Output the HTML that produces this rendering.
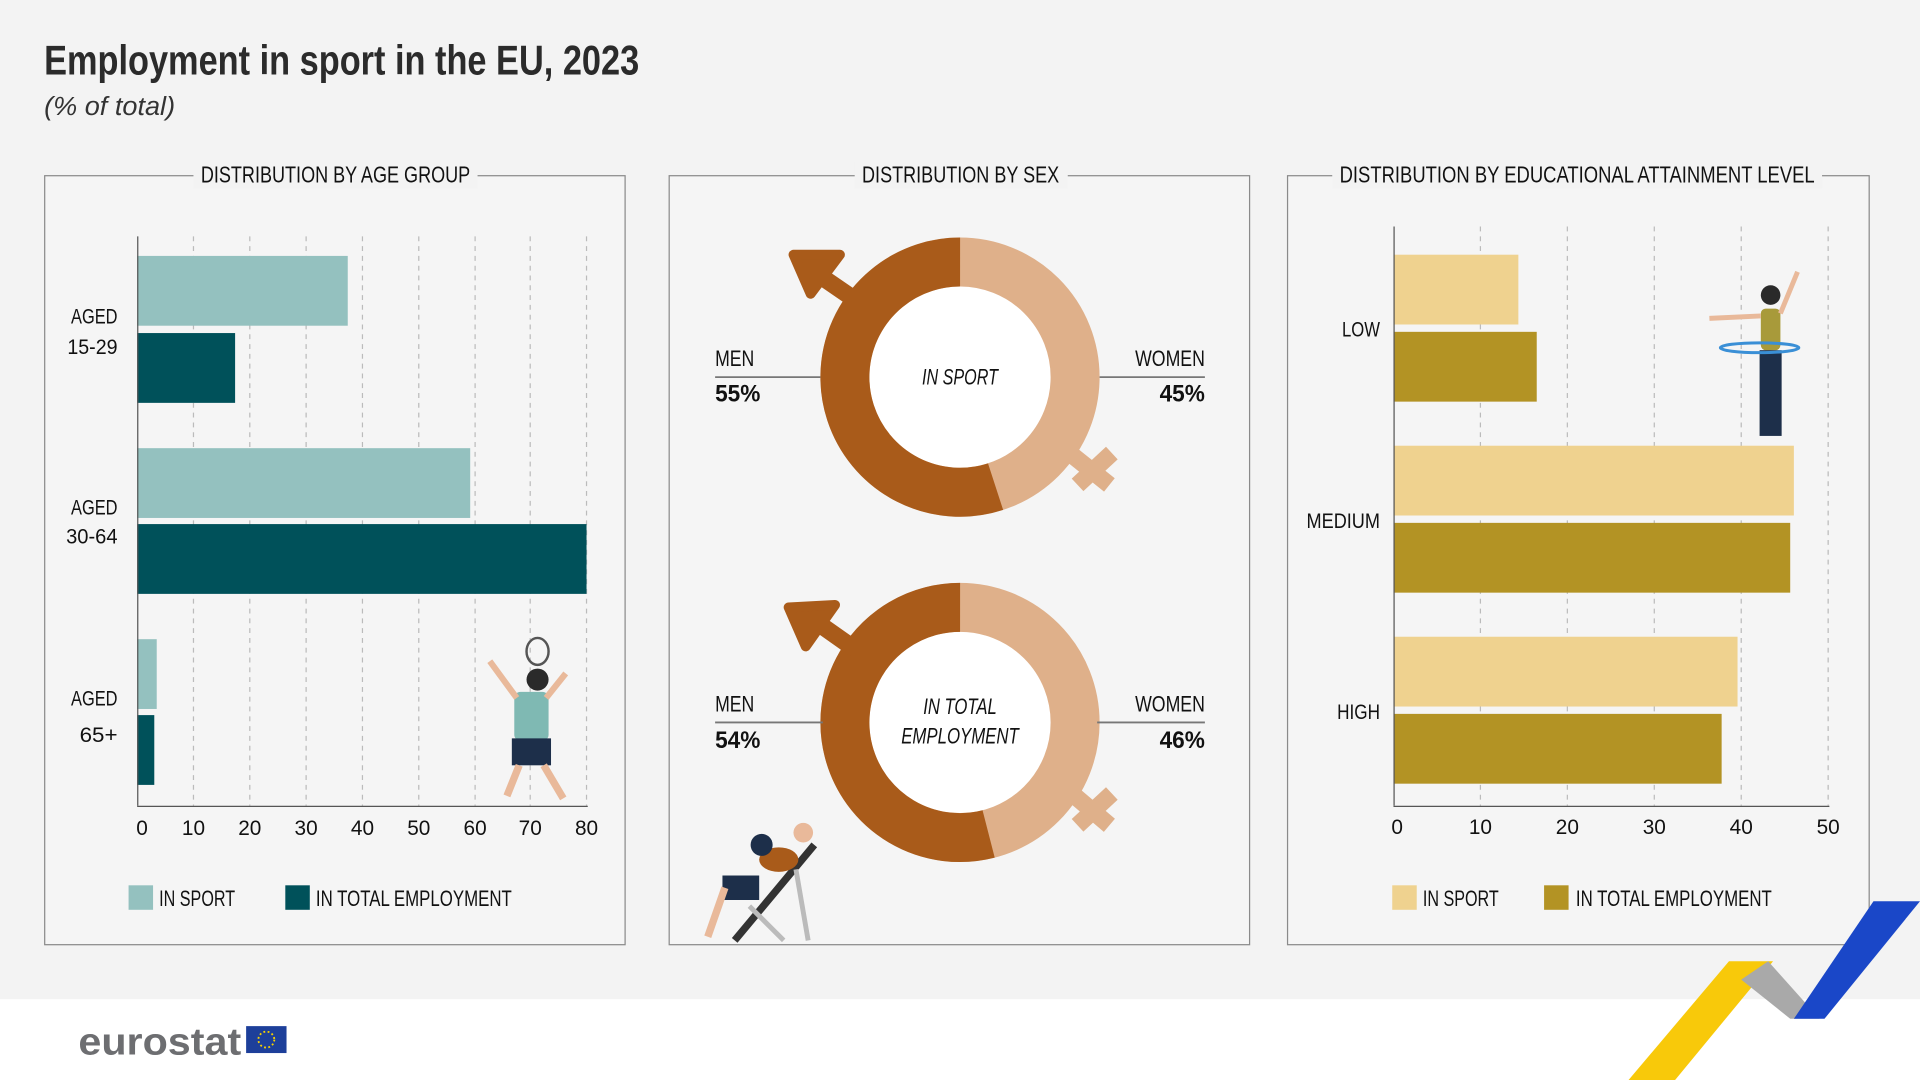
<!DOCTYPE html>
<html><head><meta charset="utf-8"><style>
html,body{margin:0;padding:0;background:#f3f3f3;}
svg{display:block;font-family:"Liberation Sans Narrow","Liberation Sans",sans-serif;}
</style></head><body>
<svg width="1920" height="1080" viewBox="0 0 1568 882" preserveAspectRatio="none" xmlns="http://www.w3.org/2000/svg">
<rect width="1568" height="882" fill="#f3f3f3"/>
<rect y="816" width="1568" height="66" fill="#ffffff"/>
<text x="36" y="61" font-size="34" font-weight="bold" fill="#2b2b2b" textLength="486" lengthAdjust="spacingAndGlyphs">Employment in sport in the EU, 2023</text>
<text x="36" y="94" font-size="21" font-style="italic" fill="#333" textLength="107" lengthAdjust="spacingAndGlyphs">(% of total)</text>

<g fill="#f5f5f5" stroke="#8a8a8a" stroke-width="1">
<rect x="36.5" y="143.5" width="474" height="628"/>
<rect x="546.5" y="143.5" width="474" height="628"/>
<rect x="1051.5" y="143.5" width="475" height="628"/>
</g>
<g font-size="19" fill="#111">
<rect x="158" y="132" width="232" height="22" fill="#f3f3f3"/>
<text x="164" y="149" textLength="220" lengthAdjust="spacingAndGlyphs">DISTRIBUTION BY AGE GROUP</text>
<rect x="698" y="132" width="174" height="22" fill="#f3f3f3"/>
<text x="704" y="149" textLength="161" lengthAdjust="spacingAndGlyphs">DISTRIBUTION BY SEX</text>
<rect x="1088" y="132" width="400" height="22" fill="#f3f3f3"/>
<text x="1094" y="149" textLength="388" lengthAdjust="spacingAndGlyphs">DISTRIBUTION BY EDUCATIONAL ATTAINMENT LEVEL</text>
</g>

<!-- left chart -->
<g stroke="#bbb" stroke-dasharray="4 4" stroke-width="1">
<line x1="158" y1="193" x2="158" y2="658"/><line x1="204" y1="193" x2="204" y2="658"/>
<line x1="250" y1="193" x2="250" y2="658"/><line x1="296" y1="193" x2="296" y2="658"/>
<line x1="342" y1="193" x2="342" y2="658"/><line x1="388" y1="193" x2="388" y2="658"/>
<line x1="433" y1="193" x2="433" y2="658"/><line x1="479" y1="193" x2="479" y2="658"/>
</g>
<g fill="#94c1bf"><rect x="112" y="209" width="172" height="57"/><rect x="112" y="366" width="272" height="57"/><rect x="112" y="522" width="16" height="57"/></g>
<g fill="#00515a"><rect x="112" y="272" width="80" height="57"/><rect x="112" y="428" width="367" height="57"/><rect x="112" y="584" width="14" height="57"/></g>
<line x1="112.5" y1="193" x2="112.5" y2="658" stroke="#555"/>
<line x1="112" y1="658.5" x2="480" y2="658.5" stroke="#555"/>
<g font-size="17" fill="#111" text-anchor="middle">
<text x="116" y="682">0</text><text x="158" y="682">10</text><text x="204" y="682">20</text><text x="250" y="682">30</text><text x="296" y="682">40</text><text x="342" y="682">50</text><text x="388" y="682">60</text><text x="433" y="682">70</text><text x="479" y="682">80</text>
</g>
<g font-size="17" fill="#111">
<text x="58" y="264" textLength="38" lengthAdjust="spacingAndGlyphs">AGED</text><text x="55" y="289" textLength="41" lengthAdjust="spacingAndGlyphs">15-29</text>
<text x="58" y="420" textLength="38" lengthAdjust="spacingAndGlyphs">AGED</text><text x="54" y="444" textLength="42" lengthAdjust="spacingAndGlyphs">30-64</text>
<text x="58" y="576" textLength="38" lengthAdjust="spacingAndGlyphs">AGED</text><text x="65" y="606" textLength="31" lengthAdjust="spacingAndGlyphs">65+</text>
</g>
<rect x="105" y="723" width="20" height="20" fill="#94c1bf"/><text x="130" y="740" font-size="18" fill="#111" textLength="62" lengthAdjust="spacingAndGlyphs">IN SPORT</text>
<rect x="233" y="723" width="20" height="20" fill="#00515a"/><text x="258" y="740" font-size="18" fill="#111" textLength="160" lengthAdjust="spacingAndGlyphs">IN TOTAL EMPLOYMENT</text>
<g>
<circle cx="439" cy="555" r="9" fill="#2a2a2a"/>
<rect x="420" y="565" width="28" height="40" rx="5" fill="#7fb9b3"/>
<rect x="418" y="603" width="32" height="22" fill="#1d2f4a"/>
<line x1="424" y1="625" x2="414" y2="650" stroke="#e9b99a" stroke-width="6"/>
<line x1="444" y1="625" x2="460" y2="652" stroke="#e9b99a" stroke-width="6"/>
<line x1="422" y1="570" x2="400" y2="540" stroke="#e9b99a" stroke-width="5"/>
<line x1="446" y1="570" x2="462" y2="550" stroke="#e9b99a" stroke-width="5"/>
<ellipse cx="439" cy="532" rx="9" ry="11" fill="none" stroke="#555" stroke-width="2"/>
</g>

<!-- middle donuts -->
<g>
<circle cx="784" cy="308" r="94" fill="#fff" stroke="#dfb08a" stroke-width="40"/>
<circle cx="784" cy="308" r="94" fill="none" stroke="#a95b1a" stroke-width="40" stroke-dasharray="324.8 1000" transform="rotate(72 784 308)"/>
<line x1="700" y1="246" x2="668" y2="224" stroke="#a95b1a" stroke-width="14"/>
<polygon points="648,208 686,208 662,240" fill="#a95b1a" stroke="#a95b1a" stroke-width="8" stroke-linejoin="round"/>
<line x1="866" y1="364" x2="906" y2="396" stroke="#dfb08a" stroke-width="14"/>
<line x1="880" y1="396" x2="908" y2="370" stroke="#dfb08a" stroke-width="14"/>
<text x="753" y="314" font-size="18" font-style="italic" fill="#111" textLength="62" lengthAdjust="spacingAndGlyphs">IN SPORT</text>

<circle cx="784" cy="590" r="94" fill="#fff" stroke="#dfb08a" stroke-width="40"/>
<circle cx="784" cy="590" r="94" fill="none" stroke="#a95b1a" stroke-width="40" stroke-dasharray="318.9 1000" transform="rotate(75.6 784 590)"/>
<line x1="698" y1="530" x2="664" y2="506" stroke="#a95b1a" stroke-width="14"/>
<polygon points="644,496 682,494 658,528" fill="#a95b1a" stroke="#a95b1a" stroke-width="8" stroke-linejoin="round"/>
<line x1="866" y1="640" x2="906" y2="674" stroke="#dfb08a" stroke-width="14"/>
<line x1="880" y1="674" x2="908" y2="648" stroke="#dfb08a" stroke-width="14"/>
<text x="754" y="583" font-size="18" font-style="italic" fill="#111" textLength="60" lengthAdjust="spacingAndGlyphs">IN TOTAL</text>
<text x="736" y="607" font-size="18" font-style="italic" fill="#111" textLength="96" lengthAdjust="spacingAndGlyphs">EMPLOYMENT</text>
</g>
<g stroke="#777" stroke-width="1.5">
<line x1="584" y1="308" x2="670" y2="308"/><line x1="898" y1="308" x2="984" y2="308"/>
<line x1="584" y1="590" x2="672" y2="590"/><line x1="896" y1="590" x2="984" y2="590"/>
</g>
<g font-size="18" fill="#111">
<text x="584" y="299" textLength="32" lengthAdjust="spacingAndGlyphs">MEN</text><text x="584" y="328" font-weight="bold" font-size="20" textLength="37" lengthAdjust="spacingAndGlyphs">55%</text>
<text x="927" y="299" textLength="57" lengthAdjust="spacingAndGlyphs">WOMEN</text><text x="947" y="328" font-weight="bold" font-size="20" textLength="37" lengthAdjust="spacingAndGlyphs">45%</text>
<text x="584" y="581" textLength="32" lengthAdjust="spacingAndGlyphs">MEN</text><text x="584" y="611" font-weight="bold" font-size="20" textLength="37" lengthAdjust="spacingAndGlyphs">54%</text>
<text x="927" y="581" textLength="57" lengthAdjust="spacingAndGlyphs">WOMEN</text><text x="947" y="611" font-weight="bold" font-size="20" textLength="37" lengthAdjust="spacingAndGlyphs">46%</text>
</g>
<g>
<line x1="600" y1="768" x2="665" y2="690" stroke="#333" stroke-width="6"/>
<line x1="612" y1="740" x2="640" y2="768" stroke="#bbb" stroke-width="4"/>
<line x1="650" y1="710" x2="660" y2="768" stroke="#bbb" stroke-width="4"/>
<rect x="590" y="715" width="30" height="20" fill="#1d2f4a"/>
<ellipse cx="636" cy="702" rx="16" ry="10" fill="#a95b1a"/>
<circle cx="656" cy="680" r="8" fill="#e9b99a"/>
<circle cx="622" cy="690" r="9" fill="#1d2f4a"/>
<line x1="592" y1="725" x2="578" y2="765" stroke="#e9b99a" stroke-width="6"/>
</g>

<!-- right chart -->
<g stroke="#bbb" stroke-dasharray="4 4" stroke-width="1">
<line x1="1209" y1="185" x2="1209" y2="658"/><line x1="1280" y1="185" x2="1280" y2="658"/>
<line x1="1351" y1="185" x2="1351" y2="658"/><line x1="1422" y1="185" x2="1422" y2="658"/>
<line x1="1493" y1="185" x2="1493" y2="658"/>
</g>
<g fill="#efd28f"><rect x="1138" y="208" width="102" height="57"/><rect x="1138" y="364" width="327" height="57"/><rect x="1138" y="520" width="281" height="57"/></g>
<g fill="#b39324"><rect x="1138" y="271" width="117" height="57"/><rect x="1138" y="427" width="324" height="57"/><rect x="1138" y="583" width="268" height="57"/></g>
<line x1="1138.5" y1="185" x2="1138.5" y2="658" stroke="#555"/>
<line x1="1138" y1="658.5" x2="1494" y2="658.5" stroke="#555"/>
<g font-size="17" fill="#111" text-anchor="middle">
<text x="1141" y="681">0</text><text x="1209" y="681">10</text><text x="1280" y="681">20</text><text x="1351" y="681">30</text><text x="1422" y="681">40</text><text x="1493" y="681">50</text>
</g>
<g font-size="17" fill="#111">
<text x="1096" y="275" textLength="31" lengthAdjust="spacingAndGlyphs">LOW</text><text x="1067" y="431" textLength="60" lengthAdjust="spacingAndGlyphs">MEDIUM</text><text x="1092" y="587" textLength="35" lengthAdjust="spacingAndGlyphs">HIGH</text>
</g>
<rect x="1137" y="723" width="20" height="20" fill="#efd28f"/><text x="1162" y="740" font-size="18" fill="#111" textLength="62" lengthAdjust="spacingAndGlyphs">IN SPORT</text>
<rect x="1261" y="723" width="20" height="20" fill="#b39324"/><text x="1287" y="740" font-size="18" fill="#111" textLength="160" lengthAdjust="spacingAndGlyphs">IN TOTAL EMPLOYMENT</text>
<g>
<circle cx="1446" cy="241" r="8" fill="#2a2a2a"/>
<rect x="1438" y="252" width="16" height="34" rx="4" fill="#a89a3a"/>
<rect x="1437" y="286" width="18" height="70" fill="#1d2f4a"/>
<ellipse cx="1437" cy="284" rx="32" ry="4" fill="none" stroke="#3a8fd6" stroke-width="2.5"/>
<line x1="1454" y1="256" x2="1468" y2="222" stroke="#e9b99a" stroke-width="4"/>
<line x1="1438" y1="258" x2="1396" y2="260" stroke="#e9b99a" stroke-width="4"/>
</g>

<text x="64" y="861" font-size="31" font-weight="bold" fill="#6d6e71" font-family="Liberation Sans, sans-serif" textLength="133" lengthAdjust="spacingAndGlyphs">eurostat</text>
<rect x="201" y="838" width="33" height="22" fill="#1d3f9a"/>
<circle cx="217.5" cy="849" r="6.5" fill="none" stroke="#f7d200" stroke-width="1.5" stroke-dasharray="1.5 2"/>
<polygon points="1330,882 1368,882 1448,785 1412,785" fill="#f8c90a"/>
<polygon points="1422,800 1444,785 1486,832 1462,832" fill="#a9a9a9"/>
<polygon points="1465,832 1490,832 1568,736 1530,736" fill="#1a47c8"/>
</svg>
</body></html>
